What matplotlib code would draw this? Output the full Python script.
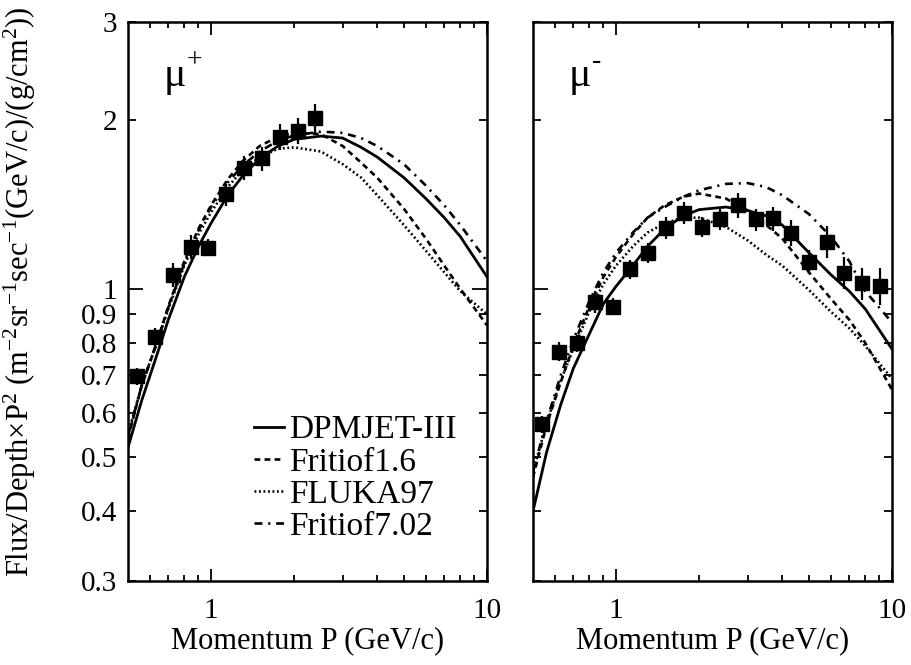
import matplotlib
matplotlib.use("Agg")
import matplotlib.pyplot as plt
from matplotlib.ticker import FixedLocator, FixedFormatter, NullFormatter

plt.rcParams['font.family'] = ['Liberation Serif', 'DejaVu Serif']
plt.rcParams['mathtext.fontset'] = 'custom'
plt.rcParams['mathtext.rm'] = 'Liberation Serif'
plt.rcParams['mathtext.it'] = 'Liberation Serif:italic'
plt.rcParams['mathtext.bf'] = 'Liberation Serif:bold'

# ---------------- data ----------------
# mu+ measured points
mup_p = [0.538, 0.626, 0.726, 0.844, 0.977, 1.13, 1.32, 1.53, 1.78, 2.06, 2.39]
mup_f = [0.698, 0.818, 1.058, 1.189, 1.185, 1.475, 1.646, 1.71, 1.87, 1.918, 2.02]
mup_e = [0.035, 0.040, 0.050, 0.048, 0.035, 0.045, 0.050, 0.050, 0.055, 0.055, 0.060]

# mu- measured points
mum_p = [0.538, 0.623, 0.724, 0.839, 0.972, 1.12, 1.31, 1.52, 1.76, 2.04,
         2.38, 2.76, 3.21, 3.71, 4.31, 4.99, 5.79, 6.71, 7.80, 9.04]
mum_f = [0.573, 0.772, 0.800, 0.948, 0.929, 1.083, 1.16, 1.285, 1.365, 1.29,
         1.331, 1.41, 1.33, 1.336, 1.26, 1.118, 1.214, 1.068, 1.023, 1.011]
mum_e = [0.035, 0.040, 0.035, 0.045, 0.035, 0.040, 0.040, 0.045, 0.045, 0.040,
         0.045, 0.050, 0.045, 0.050, 0.055, 0.050, 0.065, 0.065, 0.065, 0.075]

# model curves (momentum grid)
curve_p = [0.5, 0.56, 0.63, 0.7, 0.8, 0.9, 1.0, 1.15, 1.3, 1.5, 1.75, 2.0,
           2.5, 3.0, 3.5, 4.0, 5.0, 6.0, 7.0, 8.0, 10.0]

mup_dpmjet = [0.52, 0.63, 0.75, 0.88, 1.05, 1.19, 1.31, 1.47, 1.59, 1.71, 1.80, 1.85,
              1.875, 1.86, 1.79, 1.72, 1.58, 1.45, 1.34, 1.24, 1.05]
mup_frit16 = [0.54, 0.67, 0.79, 0.93, 1.12, 1.28, 1.41, 1.57, 1.69, 1.80, 1.87, 1.90,
              1.89, 1.80, 1.68, 1.58, 1.39, 1.23, 1.10, 1.00, 0.86]
mup_fluka = [0.55, 0.67, 0.79, 0.92, 1.10, 1.25, 1.37, 1.52, 1.63, 1.72, 1.78, 1.79,
             1.76, 1.67, 1.58, 1.47, 1.30, 1.17, 1.07, 0.99, 0.90]
mup_frit702 = [0.545, 0.67, 0.79, 0.925, 1.11, 1.27, 1.40, 1.55, 1.66, 1.76, 1.84, 1.88,
               1.91, 1.90, 1.86, 1.80, 1.67, 1.53, 1.41, 1.30, 1.12]

mum_dpmjet = [0.40, 0.51, 0.62, 0.72, 0.83, 0.94, 1.01, 1.10, 1.19, 1.28, 1.35, 1.385,
              1.40, 1.38, 1.35, 1.30, 1.16, 1.06, 0.99, 0.92, 0.78]
mum_frit16 = [0.46, 0.57, 0.68, 0.79, 0.93, 1.05, 1.14, 1.25, 1.34, 1.41, 1.46, 1.48,
              1.45, 1.38, 1.30, 1.23, 1.07, 0.96, 0.88, 0.80, 0.66]
mum_fluka = [0.47, 0.575, 0.685, 0.78, 0.91, 1.02, 1.10, 1.19, 1.26, 1.31, 1.34, 1.34,
             1.29, 1.22, 1.15, 1.10, 0.995, 0.91, 0.85, 0.79, 0.69]
mum_frit702 = [0.47, 0.58, 0.70, 0.81, 0.95, 1.07, 1.16, 1.26, 1.34, 1.40, 1.46, 1.50,
               1.54, 1.545, 1.52, 1.47, 1.36, 1.24, 1.12, 0.99, 0.87]

model_names = ['DPMJET-III', 'Fritiof1.6', 'FLUKA97', 'Fritiof7.02']

ytick_vals = [0.3, 0.4, 0.5, 0.6, 0.7, 0.8, 0.9, 2, 3]
ytick_labs = ['0.3', '0.4', '0.5', '0.6', '0.7', '0.8', '0.9', '2', '3']
xminor_vals = [0.6, 0.7, 0.8, 0.9, 2, 3, 4, 5, 6, 7, 8, 9]

# ---------------- style ----------------
styles = [dict(ls='-', lw=2.0),
          dict(ls=(0, (2.2, 1.6)), lw=1.9),
          dict(ls=(0, (0.7, 1.0)), lw=1.9),
          dict(ls=(0, (3.0, 2.2, 0.8, 2.2)), lw=1.9)]

fig = plt.figure(figsize=(9.12, 6.65), dpi=100)
W, H = 912, 665
axL = fig.add_axes([128 / W, 84 / H, 359 / W, 559 / H])
axR = fig.add_axes([533 / W, 84 / H, 359 / W, 559 / H])

FS_TICK = 21


def setup(ax, show_ylabels):
    ax.set_xscale('log')
    ax.set_yscale('log')
    ax.set_xlim(0.5, 10)
    ax.set_ylim(0.3, 3)
    for s in ax.spines.values():
        s.set_linewidth(1.8)
    ax.xaxis.set_major_locator(FixedLocator([1, 10]))
    ax.xaxis.set_major_formatter(FixedFormatter(['1', '10']))
    ax.xaxis.set_minor_locator(FixedLocator(xminor_vals))
    ax.xaxis.set_minor_formatter(NullFormatter())
    ax.yaxis.set_major_locator(FixedLocator([1]))
    ax.yaxis.set_minor_locator(FixedLocator(ytick_vals))
    if show_ylabels:
        ax.yaxis.set_major_formatter(FixedFormatter(['1']))
        ax.yaxis.set_minor_formatter(FixedFormatter(ytick_labs))
    else:
        ax.yaxis.set_major_formatter(NullFormatter())
        ax.yaxis.set_minor_formatter(NullFormatter())
    ax.tick_params(which='both', direction='in', top=True, right=True,
                   width=1.3, labelsize=FS_TICK, colors='black')
    ax.tick_params(axis='x', which='major', length=9, pad=12)
    ax.tick_params(axis='x', which='minor', length=4.5)
    ax.tick_params(axis='y', which='major', length=11, pad=8)
    ax.tick_params(axis='y', which='minor', length=5.5, pad=8)
    ax.set_xlabel('Momentum P (GeV/c)', fontsize=22, labelpad=2)


setup(axL, True)
setup(axR, False)

handles = []
for ys, st, nm in zip([mup_dpmjet, mup_frit16, mup_fluka, mup_frit702], styles, model_names):
    h, = axL.plot(curve_p, ys, color='black', label=nm, **st)
    handles.append(h)
for ys, st in zip([mum_dpmjet, mum_frit16, mum_fluka, mum_frit702], styles):
    axR.plot(curve_p, ys, color='black', **st)

for ax, p, f, e in [(axL, mup_p, mup_f, mup_e), (axR, mum_p, mum_f, mum_e)]:
    err = [fi * ei for fi, ei in zip(f, e)]
    ax.errorbar(p, f, yerr=err, fmt='s', color='black', ms=10.5, elinewidth=1.6,
                capsize=0, zorder=5)

for ax, sup in [(axL, '+'), (axR, '-')]:
    ax.text(0.10, 0.885, 'μ', transform=ax.transAxes, fontsize=30,
            ha='left', va='baseline')
    ax.text(0.163, 0.918, sup, transform=ax.transAxes, fontsize=20,
            ha='left', va='baseline')

axL.legend(handles=handles, loc='upper left', bbox_to_anchor=(0.35, 0.297),
           frameon=False, fontsize=24, handlelength=0.9, handletextpad=0.15,
           labelspacing=0.05, borderpad=0, borderaxespad=0)

fig.text(20 / W, 1 - 292 / H,
         'Flux/Depth×P$^{2}$ (m$^{-2}$sr$^{-1}$sec$^{-1}$(GeV/c)/(g/cm$^{2}$))',
         rotation=90, ha='center', va='center', fontsize=22)

fig.savefig('out.png', dpi=100)
